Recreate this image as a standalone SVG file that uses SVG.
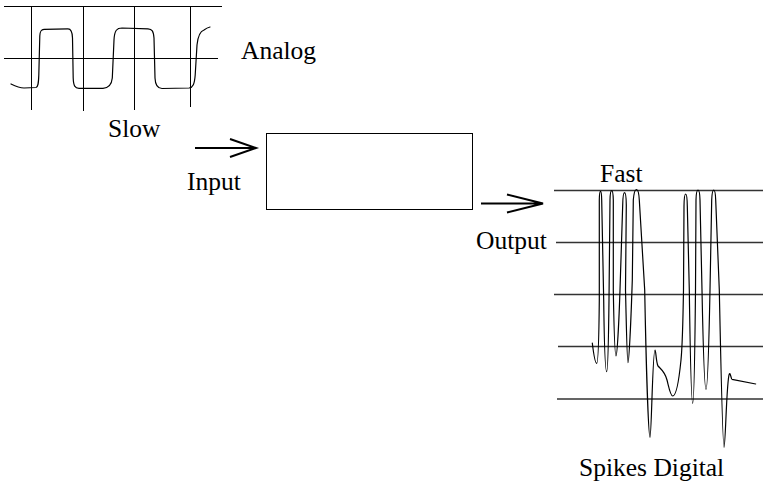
<svg xmlns="http://www.w3.org/2000/svg" width="763" height="486" viewBox="0 0 763 486">
<style>
.ax{stroke:#000;stroke-width:1;fill:none}
.ax2{stroke:#333;stroke-width:1.3;fill:none}
.wave{stroke:#000;stroke-width:1.2;fill:none;stroke-linejoin:round;stroke-linecap:round}
.arr{stroke:#000;stroke-width:2;fill:none}
text{font-family:'Liberation Serif','DejaVu Serif',serif;font-size:25.5px;fill:#000}
</style>
<rect width="763" height="486" fill="#fff"/>
<g id="analog-chart">
<path class="ax" d="M4,6.5H222M4,58.5H218M31.5,6V110M83.5,6V111M134.5,6V110M190.5,6V107"/>
<path class="wave" d="M11,84 C15,86 19,88 24,88 L36,87.5 C38,87 38.5,84 38.8,75 L39.8,36 C40,31 41,29.5 44,29.3 L68,28.8 C71,28.8 72.3,31 72.5,38 L73.2,78 C73.5,86 75,88.3 79,88.3 L103,88.3 C108,88 111.5,86 112.3,78 L114,40 C114.5,30 117,28 122,28 L148,28.8 C152,29 153.5,31 154,38 L155,78 C155.3,85 157,88.5 162,88.5 L189,88 C193,87.5 194.5,84 195.2,75 L197,45 C198,35 201,31 204,30 C206,28.5 208,27.5 210,27"/>
<text x="241" y="59">Analog</text>
<text x="108" y="137">Slow</text>
</g>
<g id="box">
<rect x="266.5" y="133.5" width="206" height="76" fill="none" stroke="#000" stroke-width="1"/>
</g>
<g id="connectors">
<path class="arr" d="M195,148H256M230,139L256,148L230,157"/>
<path class="arr" d="M481,203.5H543M507,194.5L543,203.5L507,212.5"/>
</g>
<g id="input-label"><text x="187" y="190">Input</text></g>
<g id="output-label"><text x="476" y="249">Output</text></g>
<g id="spike-chart">
<path class="ax2" d="M554,190.5H763M556,242.5H763M554,294.5H763M558,346.5H763M557,399H763"/>
<path class="wave" d="M592.3,343 C593.5,353 595,363.3 596.7,363.3 C598.5,363.3 599,330 599.3,300 L599.3,200 C599.5,188.5 601.5,188.5 601.7,200 L603.7,300 C604.2,340 605.2,371.7 606.7,371.7 C608.2,371.7 608.6,330 609,300 L610,200 C610.3,187.5 613,187.5 613.3,200 L613.3,290 C614,330 614.8,356 616,356 C617.2,356 619,320 620,290 L622.7,205 C623,188.5 626.1,188.5 626.3,205 L625.5,290 C626.5,330 627,362.7 628,362.7 C629,362.7 631,320 632.3,280 L633.3,200 C634.5,186 638.5,186 639.3,200 L644.7,290 C646,360 648.5,437.3 650,437.3 C651.5,437.3 652.5,350 655,350 C656,350 656,362 658,366 C662,370 665,372 667,380 C669,388 670.5,396 672.7,396 C676,396 679,380 681,360 C682.5,345 683,320 683.5,290 L684,206 C684.3,190 687,190 687.3,206 L689.3,290 C690,340 691.2,403.3 692.7,403.3 C694.2,403.3 695,340 695.5,290 L696,200 C696.3,186.7 699.7,186.7 700,200 L702,290 C703,340 704.5,389.3 706,389.3 C707.5,389.3 709,340 710,290 L711.7,200 C712.2,186.7 715.3,186.7 715.7,200 L719.3,290 C721,370 722.5,447.3 724,447.3 C725.5,447.3 726.5,380 729.3,374 C730.5,372 731,379 732,379.3 L755.7,384"/>
<text x="600" y="182">Fast</text>
<text x="579" y="476">Spikes Digital</text>
</g>
</svg>
